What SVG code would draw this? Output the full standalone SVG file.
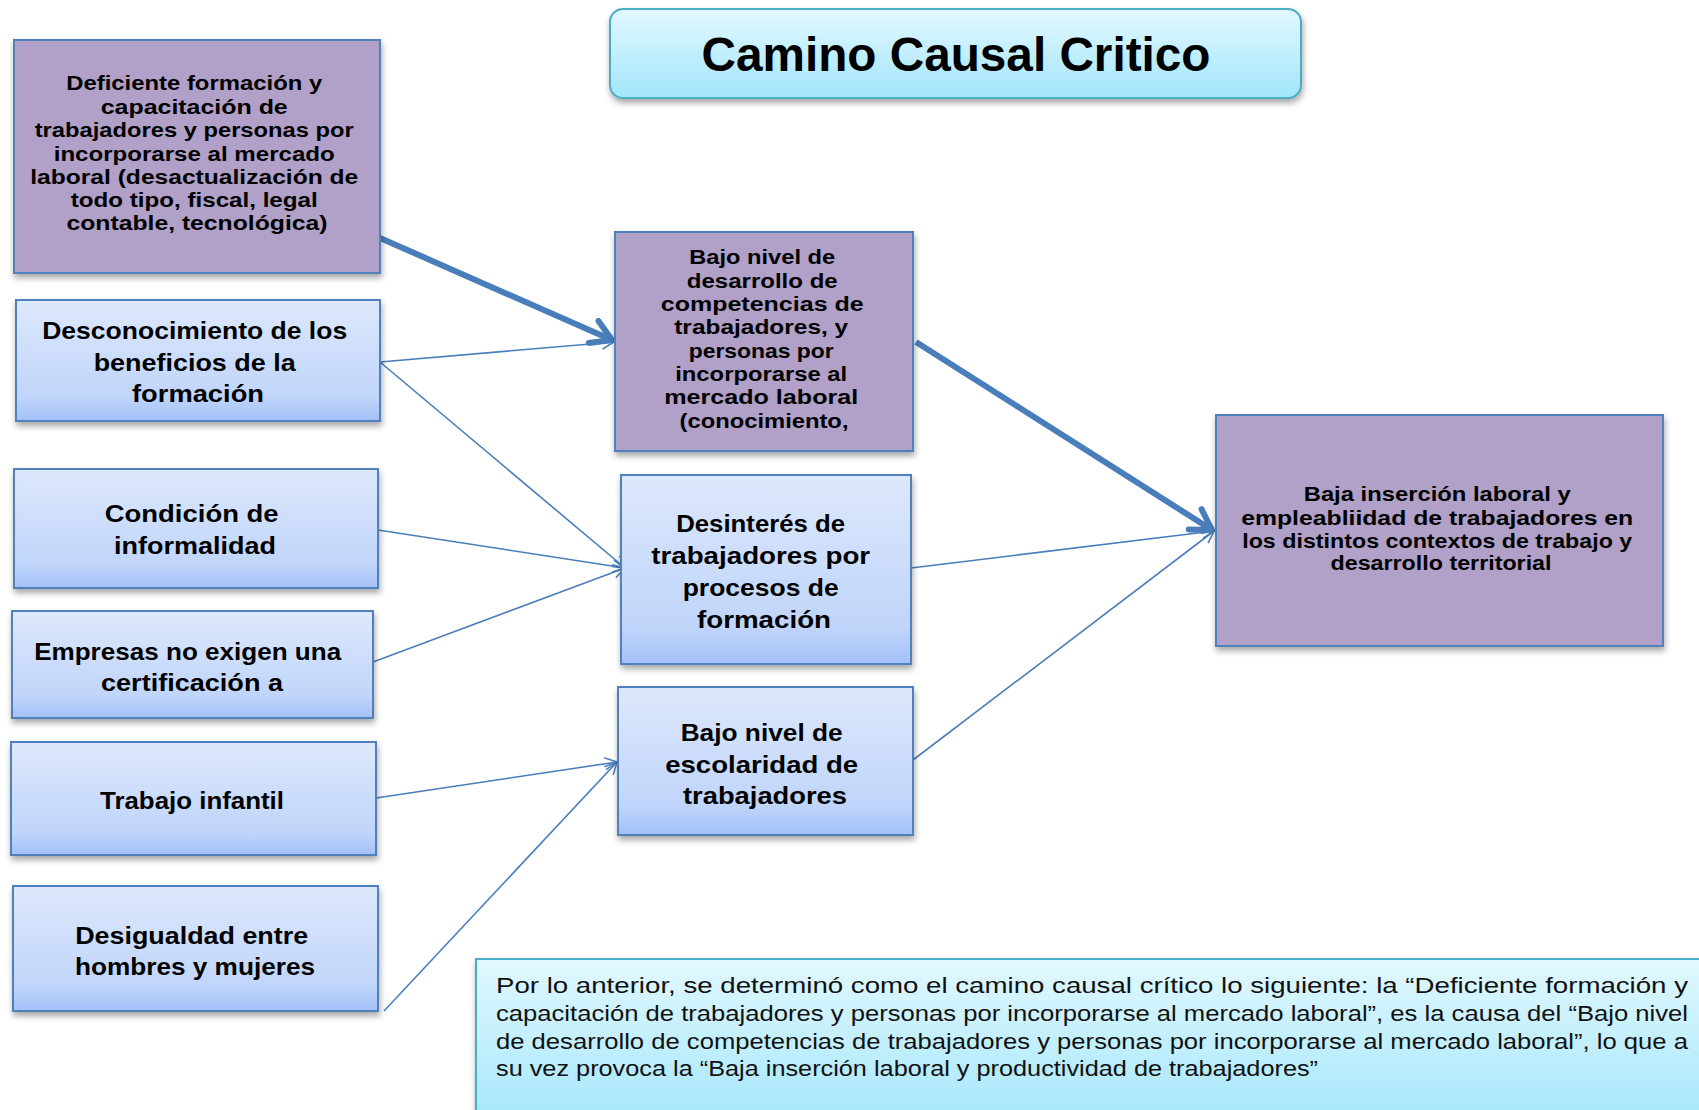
<svg xmlns="http://www.w3.org/2000/svg" width="1699" height="1110" viewBox="0 0 1699 1110">
<style>
.t{font-family:"Liberation Sans",Arial,sans-serif;font-weight:bold;fill:#000;text-anchor:middle}
.p{font-family:"Liberation Sans",Arial,sans-serif;fill:#111}
.purple{fill:#B1A0C7;stroke:#4F81BD;stroke-width:2}
.blue{fill:url(#gb);stroke:#4F81BD;stroke-width:2}
.c{stroke:#4A7EBB;fill:none}
.thin{stroke-width:1.6}
.thick{stroke-width:6}
</style>
<defs>
<linearGradient id="gb" x1="0" y1="0" x2="0" y2="1"><stop offset="0" stop-color="#DDE8FC"/><stop offset="0.8" stop-color="#C0D5FA"/><stop offset="1" stop-color="#A3C0F8"/></linearGradient>
<linearGradient id="gc" x1="0" y1="0" x2="0" y2="1"><stop offset="0" stop-color="#E2F8FE"/><stop offset="1" stop-color="#A2E6FB"/></linearGradient>
<filter id="sh" x="-5%" y="-5%" width="115%" height="120%"><feDropShadow dx="1" dy="4" stdDeviation="3" flood-color="#000" flood-opacity="0.35"/></filter>
<marker id="a1" markerUnits="userSpaceOnUse" viewBox="0 0 14 14" refX="13" refY="7" markerWidth="14" markerHeight="14" orient="auto"><path d="M1,1 L13,7 L1,13" fill="none" stroke="#4A7EBB" stroke-width="1.6"/></marker>
<marker id="a2" markerUnits="userSpaceOnUse" viewBox="0 0 30 30" refX="26" refY="15" markerWidth="30" markerHeight="30" orient="auto"><path d="M6,3 L26,15 L6,27" fill="none" stroke="#4A7EBB" stroke-width="6" stroke-linecap="round" stroke-linejoin="round"/></marker>
</defs>
<rect width="1699" height="1110" fill="#fff"/>

<g id="title">
<rect x="610" y="9" width="691" height="89" rx="13" fill="url(#gc)" stroke="#4BACC6" stroke-width="2" filter="url(#sh)"/>
<text class="t" x="956" y="71" font-size="48" textLength="509" lengthAdjust="spacingAndGlyphs">Camino Causal Critico</text>
</g>

<g id="connectors">
<line class="c thick" x1="380" y1="238" x2="612" y2="340" marker-end="url(#a2)"/>
<line class="c thick" x1="916" y1="342" x2="1212" y2="530" marker-end="url(#a2)"/>
<line class="c thin" x1="380" y1="362" x2="614" y2="342" marker-end="url(#a1)"/>
<line class="c thin" x1="380" y1="362" x2="625" y2="568" marker-end="url(#a1)"/>
<line class="c thin" x1="378" y1="530" x2="625" y2="568" marker-end="url(#a1)"/>
<line class="c thin" x1="373" y1="662" x2="625" y2="568" marker-end="url(#a1)"/>
<line class="c thin" x1="376" y1="798" x2="617" y2="762" marker-end="url(#a1)"/>
<line class="c thin" x1="384" y1="1011" x2="617" y2="762" marker-end="url(#a1)"/>
<line class="c thin" x1="911" y1="568" x2="1214" y2="531" marker-end="url(#a1)"/>
<line class="c thin" x1="913" y1="760" x2="1214" y2="531" marker-end="url(#a1)"/>
</g>

<g id="n1">
<rect class="purple" x="14" y="40" width="366" height="233" filter="url(#sh)"/>
<text class="t" font-size="20">
<tspan x="197" y="90" textLength="256" lengthAdjust="spacingAndGlyphs">Deficiente formación y</tspan>
<tspan x="197" y="114" textLength="187" lengthAdjust="spacingAndGlyphs">capacitación de</tspan>
<tspan x="197" y="137" textLength="319" lengthAdjust="spacingAndGlyphs">trabajadores y personas por</tspan>
<tspan x="197" y="161" textLength="281" lengthAdjust="spacingAndGlyphs">incorporarse al mercado</tspan>
<tspan x="197" y="184" textLength="328" lengthAdjust="spacingAndGlyphs">laboral (desactualización de</tspan>
<tspan x="197" y="207" textLength="247" lengthAdjust="spacingAndGlyphs">todo tipo, fiscal, legal</tspan>
<tspan x="197" y="230" textLength="261" lengthAdjust="spacingAndGlyphs">contable, tecnológica)</tspan>
</text>
</g>

<g id="n2">
<rect class="blue" x="16" y="300" width="364" height="121" filter="url(#sh)"/>
<text class="t" font-size="24">
<tspan x="198" y="339" textLength="305" lengthAdjust="spacingAndGlyphs">Desconocimiento de los</tspan>
<tspan x="198" y="371" textLength="202" lengthAdjust="spacingAndGlyphs">beneficios de la</tspan>
<tspan x="198" y="402" textLength="132" lengthAdjust="spacingAndGlyphs">formación</tspan>
</text>
</g>

<g id="n3">
<rect class="blue" x="14" y="469" width="364" height="119" filter="url(#sh)"/>
<text class="t" font-size="24">
<tspan x="195" y="522" textLength="174" lengthAdjust="spacingAndGlyphs">Condición de</tspan>
<tspan x="195" y="554" textLength="162" lengthAdjust="spacingAndGlyphs">informalidad</tspan>
</text>
</g>

<g id="n4">
<rect class="blue" x="12" y="611" width="361" height="107" filter="url(#sh)"/>
<text class="t" font-size="24">
<tspan x="191" y="660" textLength="307" lengthAdjust="spacingAndGlyphs">Empresas no exigen una</tspan>
<tspan x="192" y="691" textLength="182" lengthAdjust="spacingAndGlyphs">certificación a</tspan>
</text>
</g>

<g id="n5">
<rect class="blue" x="11" y="742" width="365" height="113" filter="url(#sh)"/>
<text class="t" font-size="24">
<tspan x="192" y="809" textLength="184" lengthAdjust="spacingAndGlyphs">Trabajo infantil</tspan>
</text>
</g>

<g id="n6">
<rect class="blue" x="13" y="886" width="365" height="125" filter="url(#sh)"/>
<text class="t" font-size="24">
<tspan x="195" y="944" textLength="233" lengthAdjust="spacingAndGlyphs">Desigualdad entre</tspan>
<tspan x="195" y="975" textLength="240" lengthAdjust="spacingAndGlyphs">hombres y mujeres</tspan>
</text>
</g>

<g id="nA">
<rect class="purple" x="615" y="232" width="298" height="219" filter="url(#sh)"/>
<text class="t" font-size="20">
<tspan x="765" y="264" textLength="146" lengthAdjust="spacingAndGlyphs">Bajo nivel de</tspan>
<tspan x="765" y="288" textLength="151" lengthAdjust="spacingAndGlyphs">desarrollo de</tspan>
<tspan x="765" y="311" textLength="203" lengthAdjust="spacingAndGlyphs">competencias  de</tspan>
<tspan x="764" y="334" textLength="174" lengthAdjust="spacingAndGlyphs">trabajadores, y</tspan>
<tspan x="764" y="358" textLength="145" lengthAdjust="spacingAndGlyphs">personas por</tspan>
<tspan x="764" y="381" textLength="172" lengthAdjust="spacingAndGlyphs">incorporarse al</tspan>
<tspan x="764" y="404" textLength="194" lengthAdjust="spacingAndGlyphs">mercado laboral</tspan>
<tspan x="764" y="428" textLength="169" lengthAdjust="spacingAndGlyphs">(conocimiento,</tspan>
</text>
</g>

<g id="nB">
<rect class="blue" x="621" y="475" width="290" height="189" filter="url(#sh)"/>
<text class="t" font-size="24">
<tspan x="764" y="532" textLength="169" lengthAdjust="spacingAndGlyphs">Desinterés de</tspan>
<tspan x="764" y="564" textLength="219" lengthAdjust="spacingAndGlyphs">trabajadores  por</tspan>
<tspan x="764" y="596" textLength="156" lengthAdjust="spacingAndGlyphs">procesos de</tspan>
<tspan x="764" y="628" textLength="134" lengthAdjust="spacingAndGlyphs">formación</tspan>
</text>
</g>

<g id="nC">
<rect class="blue" x="618" y="687" width="295" height="148" filter="url(#sh)"/>
<text class="t" font-size="24">
<tspan x="765" y="741" textLength="162" lengthAdjust="spacingAndGlyphs">Bajo nivel de</tspan>
<tspan x="765" y="773" textLength="193" lengthAdjust="spacingAndGlyphs">escolaridad de</tspan>
<tspan x="765" y="804" textLength="164" lengthAdjust="spacingAndGlyphs">trabajadores</tspan>
</text>
</g>

<g id="nR">
<rect class="purple" x="1216" y="415" width="447" height="231" filter="url(#sh)"/>
<text class="t" font-size="20">
<tspan x="1440" y="501" textLength="267" lengthAdjust="spacingAndGlyphs">Baja inserción laboral y</tspan>
<tspan x="1440" y="525" textLength="392" lengthAdjust="spacingAndGlyphs">empleabliidad de trabajadores en</tspan>
<tspan x="1440" y="548" textLength="390" lengthAdjust="spacingAndGlyphs">los distintos contextos  de trabajo y</tspan>
<tspan x="1441" y="570" textLength="221" lengthAdjust="spacingAndGlyphs">desarrollo territorial</tspan>
</text>
</g>

<g id="note">
<rect x="476" y="959" width="1240" height="170" fill="url(#gc)" stroke="#4BACC6" stroke-width="2" filter="url(#sh)"/>
<text class="p" font-size="22">
<tspan x="496" y="993" textLength="1192" lengthAdjust="spacingAndGlyphs">Por lo anterior, se determinó como el camino causal crítico lo siguiente: la “Deficiente formación y</tspan>
<tspan x="496" y="1021" textLength="1192" lengthAdjust="spacingAndGlyphs">capacitación de trabajadores y personas por incorporarse al mercado laboral”, es la causa del “Bajo nivel</tspan>
<tspan x="496" y="1049" textLength="1192" lengthAdjust="spacingAndGlyphs">de desarrollo de competencias de trabajadores y personas por incorporarse al mercado laboral”, lo que a</tspan>
<tspan x="496" y="1076" textLength="822" lengthAdjust="spacingAndGlyphs">su vez provoca la “Baja inserción laboral y productividad de trabajadores”</tspan>
</text>
</g>
</svg>
